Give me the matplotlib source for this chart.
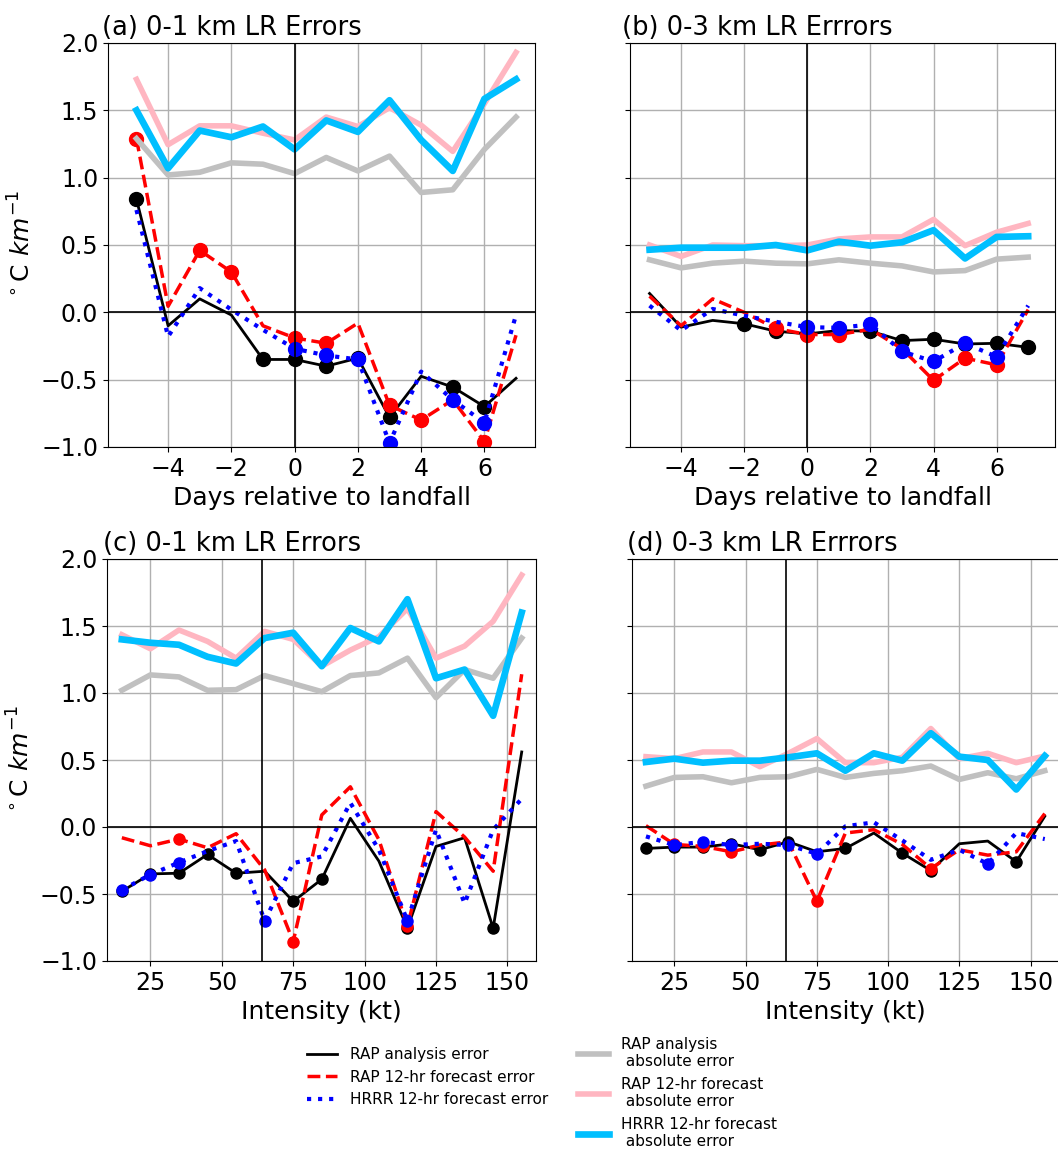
import numpy as np
import matplotlib
matplotlib.use("Agg")
import matplotlib.pyplot as plt

# x coordinates
days = np.arange(-5, 8)
intensity = np.arange(15, 160, 10)

# (a) 0-1 km, days relative to landfall
black_a = [0.84, -0.10, 0.10, -0.02, -0.35, -0.35, -0.40, -0.34, -0.78, -0.475, -0.555, -0.70, -0.49]
red_a = [1.29, 0.045, 0.46, 0.30, -0.10, -0.19, -0.23, -0.08, -0.69, -0.80, -0.65, -0.96, -0.17]
blue_a = [0.76, -0.18, 0.18, 0.02, -0.13, -0.27, -0.32, -0.35, -0.97, -0.44, -0.65, -0.82, -0.02]
gray_a = [1.29, 1.02, 1.04, 1.11, 1.10, 1.03, 1.15, 1.05, 1.16, 0.89, 0.91, 1.21, 1.45]
pink_a = [1.73, 1.245, 1.385, 1.385, 1.33, 1.28, 1.45, 1.38, 1.52, 1.39, 1.195, 1.55, 1.93]
cyan_a = [1.50, 1.07, 1.35, 1.30, 1.38, 1.21, 1.425, 1.34, 1.575, 1.28, 1.05, 1.585, 1.73]
sig_black_a = [1, 0, 0, 0, 1, 1, 1, 1, 1, 0, 1, 1, 0]
sig_red_a = [1, 0, 1, 1, 0, 1, 1, 0, 1, 1, 0, 1, 0]
sig_blue_a = [0, 0, 0, 0, 0, 1, 1, 1, 1, 0, 1, 1, 0]

# (b) 0-3 km, days relative to landfall
black_b = [0.14, -0.11, -0.06, -0.085, -0.14, -0.16, -0.135, -0.14, -0.21, -0.20, -0.235, -0.23, -0.26]
red_b = [0.12, -0.10, 0.10, 0.0, -0.12, -0.165, -0.165, -0.125, -0.27, -0.505, -0.34, -0.39, 0.02]
blue_b = [0.05, -0.135, 0.025, -0.025, -0.07, -0.11, -0.115, -0.09, -0.29, -0.365, -0.23, -0.33, 0.05]
gray_b = [0.39, 0.33, 0.365, 0.38, 0.365, 0.36, 0.39, 0.365, 0.345, 0.30, 0.31, 0.395, 0.41]
pink_b = [0.50, 0.415, 0.50, 0.495, 0.495, 0.50, 0.545, 0.56, 0.56, 0.69, 0.495, 0.595, 0.66]
cyan_b = [0.465, 0.48, 0.48, 0.48, 0.50, 0.46, 0.525, 0.495, 0.52, 0.61, 0.40, 0.56, 0.565]
sig_black_b = [0, 0, 0, 1, 1, 1, 0, 1, 1, 1, 1, 1, 1]
sig_red_b = [0, 0, 0, 0, 1, 1, 1, 0, 0, 1, 1, 1, 0]
sig_blue_b = [0, 0, 0, 0, 0, 1, 1, 1, 1, 1, 1, 1, 0]

# (c) 0-1 km, intensity bins
black_c = [-0.48, -0.35, -0.345, -0.205, -0.345, -0.33, -0.555, -0.39, 0.065, -0.255, -0.755, -0.145, -0.08, -0.755, 0.56]
red_c = [-0.08, -0.14, -0.09, -0.155, -0.05, -0.32, -0.855, 0.09, 0.30, -0.095, -0.74, 0.115, -0.075, -0.33, 1.14]
blue_c = [-0.47, -0.355, -0.265, -0.18, -0.105, -0.70, -0.27, -0.22, 0.18, -0.17, -0.70, -0.02, -0.57, -0.02, 0.21]
gray_c = [1.02, 1.135, 1.12, 1.02, 1.025, 1.13, 1.07, 1.01, 1.13, 1.15, 1.26, 0.965, 1.175, 1.11, 1.41]
pink_c = [1.435, 1.33, 1.47, 1.385, 1.26, 1.46, 1.40, 1.20, 1.32, 1.42, 1.63, 1.26, 1.35, 1.535, 1.88]
cyan_c = [1.40, 1.375, 1.36, 1.27, 1.22, 1.41, 1.45, 1.20, 1.485, 1.385, 1.70, 1.11, 1.175, 0.83, 1.60]
sig_black_c = [1, 1, 1, 1, 1, 0, 1, 1, 0, 0, 1, 0, 0, 1, 0]
sig_red_c = [0, 0, 1, 0, 0, 0, 1, 0, 0, 0, 1, 0, 0, 0, 0]
sig_blue_c = [1, 1, 1, 0, 0, 1, 0, 0, 0, 0, 1, 0, 0, 0, 0]

# (d) 0-3 km, intensity bins
black_d = [-0.16, -0.15, -0.15, -0.125, -0.17, -0.11, -0.185, -0.16, -0.045, -0.195, -0.325, -0.125, -0.105, -0.26, 0.08]
red_d = [0.01, -0.13, -0.145, -0.185, -0.135, -0.11, -0.555, -0.045, -0.02, -0.13, -0.31, -0.17, -0.21, -0.185, 0.10]
blue_d = [-0.07, -0.135, -0.11, -0.135, -0.125, -0.135, -0.20, 0.005, 0.035, -0.10, -0.245, -0.17, -0.275, -0.045, -0.09]
gray_d = [0.305, 0.37, 0.375, 0.33, 0.37, 0.375, 0.43, 0.37, 0.40, 0.42, 0.455, 0.355, 0.405, 0.36, 0.42]
pink_d = [0.525, 0.51, 0.56, 0.56, 0.45, 0.55, 0.66, 0.48, 0.48, 0.52, 0.735, 0.51, 0.55, 0.48, 0.53]
cyan_d = [0.485, 0.51, 0.48, 0.495, 0.495, 0.52, 0.55, 0.42, 0.55, 0.495, 0.70, 0.525, 0.50, 0.28, 0.53]
sig_black_d = [1, 1, 1, 1, 1, 1, 0, 1, 0, 1, 1, 0, 0, 1, 0]
sig_red_d = [0, 1, 1, 1, 0, 0, 1, 0, 0, 0, 1, 0, 0, 0, 0]
sig_blue_d = [0, 1, 1, 1, 0, 1, 1, 0, 0, 0, 0, 0, 1, 0, 0]

labels = ['RAP analysis error', 'RAP 12-hr forecast error', 'HRRR 12-hr forecast error',
          'RAP analysis\n absolute error', 'RAP 12-hr forecast\n absolute error',
          'HRRR 12-hr forecast\n absolute error']


def draw_panel(ax, x, err, sig, absval, ms):
    handles = []
    styles = [dict(color='black', ls='-', lw=2),
              dict(color='red', ls='--', lw=2.5),
              dict(color='blue', ls=':', lw=3)]
    for y, s, st in zip(err, sig, styles):
        y = np.asarray(y)
        m = np.asarray(s, dtype=bool)
        h, = ax.plot(x, y, **st)
        ax.plot(x[m], y[m], 'o', color=st['color'], ms=ms)
        handles.append(h)
    for y, c, lw in zip(absval, ['silver', 'lightpink', 'deepskyblue'], [4, 4, 4.8]):
        h, = ax.plot(x, y, color=c, lw=lw)
        handles.append(h)
    ax.set_ylim(-1, 2)
    ax.set_yticks(np.arange(-1, 2.01, 0.5))
    ax.grid(True, color='#b0b0b0', lw=1)
    ax.axhline(0, color='black', lw=1.2)
    ax.tick_params(labelsize=17)
    return handles


fig = plt.figure(figsize=(10.58, 11.53), dpi=100)
W, H = 1058, 1153


def px_axes(x0, x1, y0, y1):
    return fig.add_axes([x0 / W, 1 - y1 / H, (x1 - x0) / W, (y1 - y0) / H])


ax_a = px_axes(108, 535, 43, 447)
ax_b = px_axes(630, 1055, 43, 447)
ax_c = px_axes(107, 536, 559, 961)
ax_d = px_axes(632, 1059, 559, 961)

handles = draw_panel(ax_a, days, [black_a, red_a, blue_a], [sig_black_a, sig_red_a, sig_blue_a],
                     [gray_a, pink_a, cyan_a], 10)
draw_panel(ax_b, days, [black_b, red_b, blue_b], [sig_black_b, sig_red_b, sig_blue_b],
           [gray_b, pink_b, cyan_b], 10)
draw_panel(ax_c, intensity, [black_c, red_c, blue_c], [sig_black_c, sig_red_c, sig_blue_c],
           [gray_c, pink_c, cyan_c], 8)
draw_panel(ax_d, intensity, [black_d, red_d, blue_d], [sig_black_d, sig_red_d, sig_blue_d],
           [gray_d, pink_d, cyan_d], 8)

for ax in (ax_a, ax_b):
    ax.axvline(0, color='black', lw=1.2)
    ax.set_xticks([-4, -2, 0, 2, 4, 6])
    ax.set_xlabel('Days relative to landfall', fontsize=18)
ax_a.set_xlim(-5.9, 7.6)
ax_b.set_xlim(-5.62, 7.85)

for ax in (ax_c, ax_d):
    ax.axvline(64, color='black', lw=1.2)
    ax.set_xticks([25, 50, 75, 100, 125, 150])
    ax.set_xlabel('Intensity (kt)', fontsize=18)
ax_c.set_xlim(9.8, 160)
ax_d.set_xlim(10.1, 160)

for ax in (ax_b, ax_d):
    ax.tick_params(labelleft=False)
for ax in (ax_a, ax_c):
    ax.set_ylabel(r'$^\circ$C $km^{-1}$', fontsize=18)

ax_a.set_title('(a) 0-1 km LR Errors', loc='left', fontsize=18.5, x=-0.014)
ax_b.set_title('(b) 0-3 km LR Errrors', loc='left', fontsize=18.5, x=-0.019)
ax_c.set_title('(c) 0-1 km LR Errors', loc='left', fontsize=18.5, x=-0.01)
ax_d.set_title('(d) 0-3 km LR Errrors', loc='left', fontsize=18.5, x=-0.012)

fig.legend(handles, labels, ncol=2, loc='upper left', frameon=False, fontsize=11,
           bbox_to_anchor=(293 / W, 1 - 1023 / H))

fig.savefig('out.png', dpi=100)
